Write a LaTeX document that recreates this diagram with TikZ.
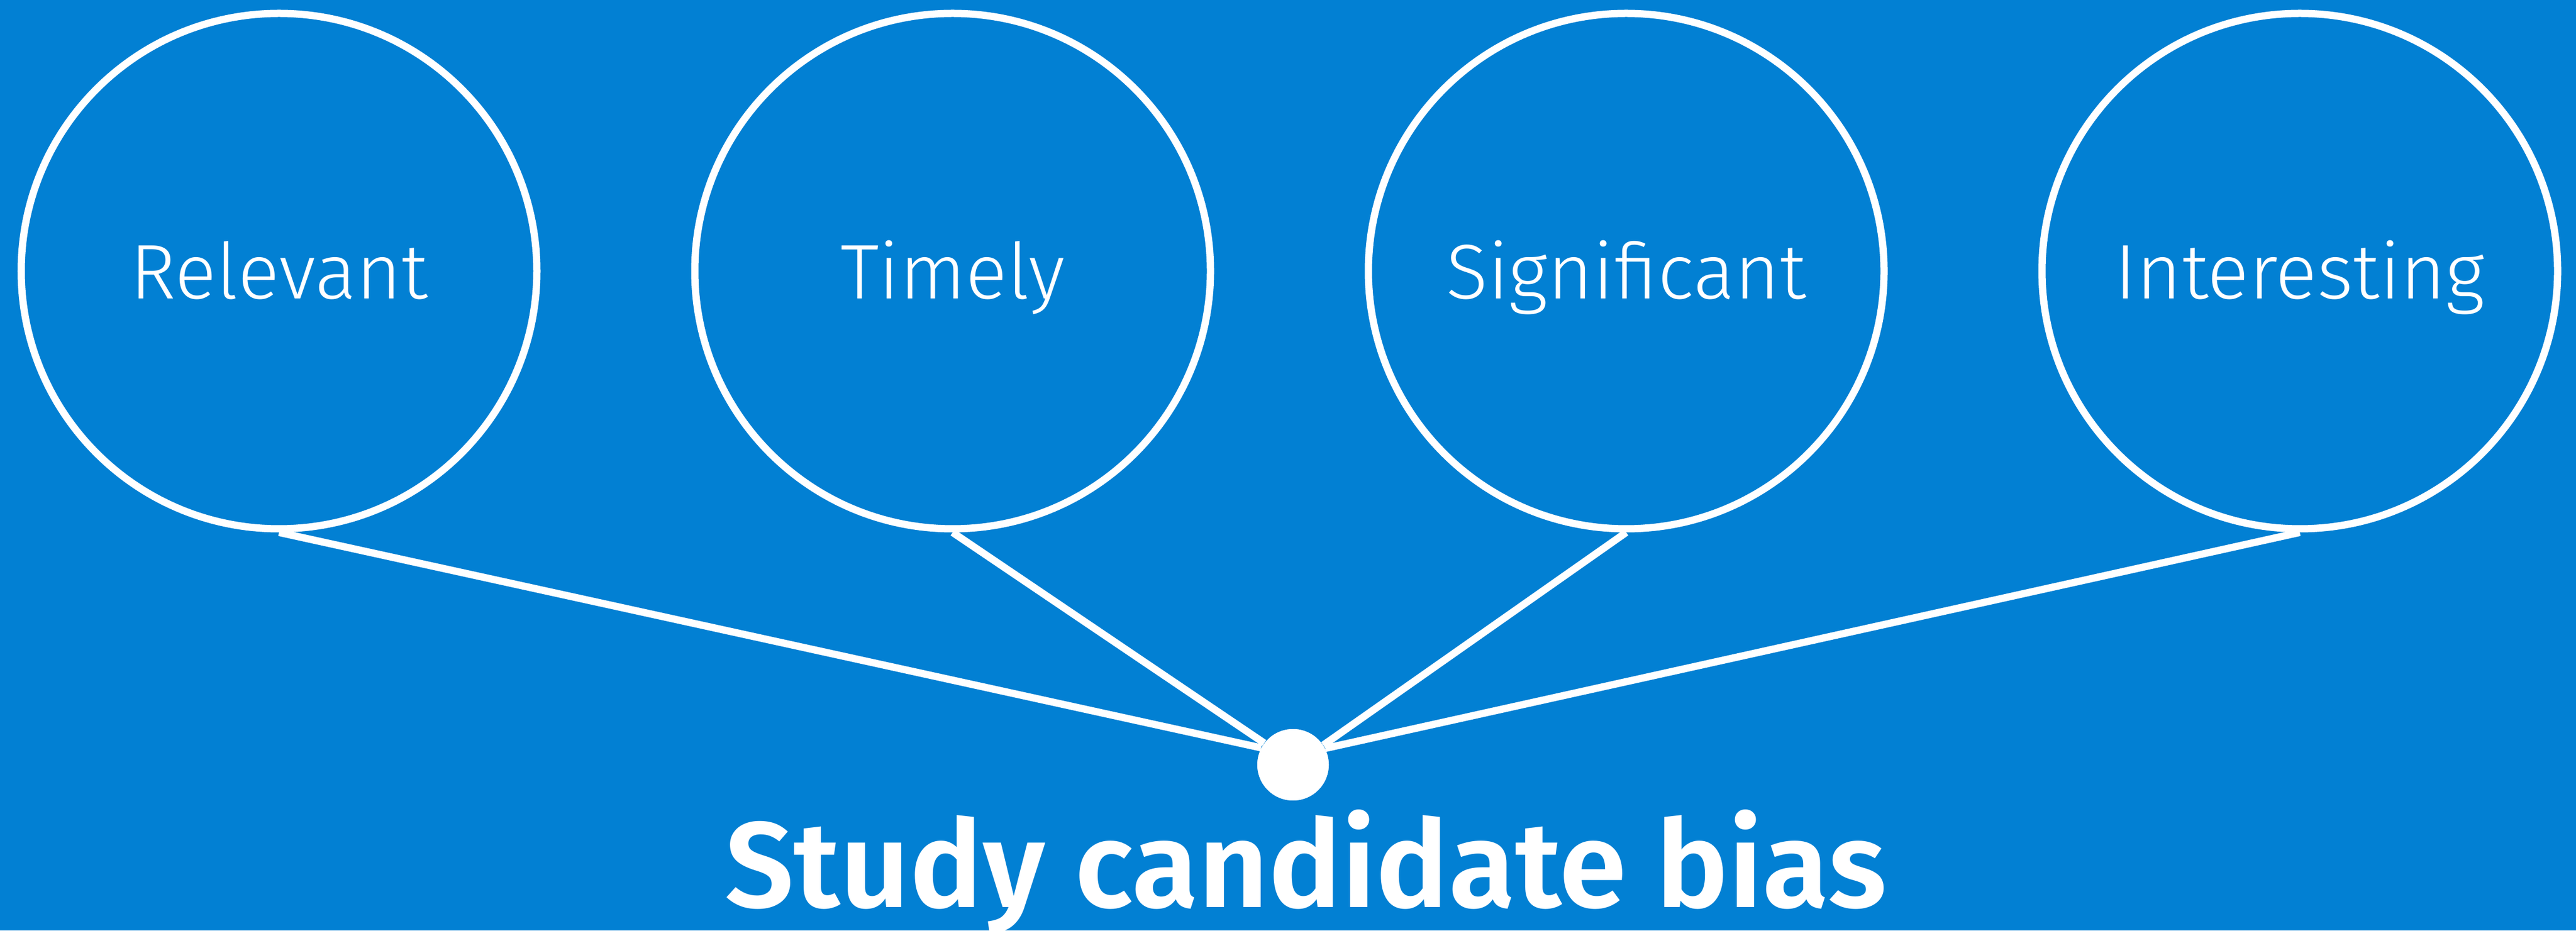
\documentclass[tikz,border=0pt]{standalone}
\usepackage{fontspec}
\setmainfont{Fira Sans}[UprightFont={* Light}, BoldFont={* SemiBold}]
\usepackage{tikz}
\usetikzlibrary{positioning,shapes,arrows}
\definecolor{ibmblue}{HTML}{0280D3}
\tikzstyle{bubble} = [circle, draw=white, line width=3.7pt, minimum size=9.24cm,
                      inner sep=0pt, text=white, text height=1cm, text depth=0pt,
                      font=\fontsize{39.5}{39.5}\selectfont]
\tikzstyle{hub} = [circle, fill=white, minimum size=1.28cm, inner sep=0pt]
\tikzstyle{line} = [draw=white, line width=3.7pt]

\begin{document}
\begin{tikzpicture}[node distance = 12.07cm, auto]
    \fill [ibmblue] (0,0) rectangle (46.16,16.68);
    \useasboundingbox (0,0) rectangle (46.16,16.68);
    % Bubbles
    \node [bubble] at (5.00,11.82) (rel) {Relevant};
    \node [bubble, right of=rel] (tim) {Timely};
    \node [bubble, right of=tim] (sig) {Significant};
    \node [bubble, right of=sig] (int) {Interesting};
    % Hub and caption
    \node [hub] at (23.17,2.97) (bias) {};
    \node [text=white, anchor=base, font=\fontsize{62}{62}\selectfont\bfseries]
          at (23.40,0.42) (caption) {Study candidate bias};
    % Lines
    \path [line] (rel.south) -- (bias.152);
    \path [line] (tim.south) -- (bias.143);
    \path [line] (sig.south) -- (bias.33);
    \path [line] (int.south) -- (bias.27);
    \node [hub] at (bias) {};
\end{tikzpicture}
\end{document}
